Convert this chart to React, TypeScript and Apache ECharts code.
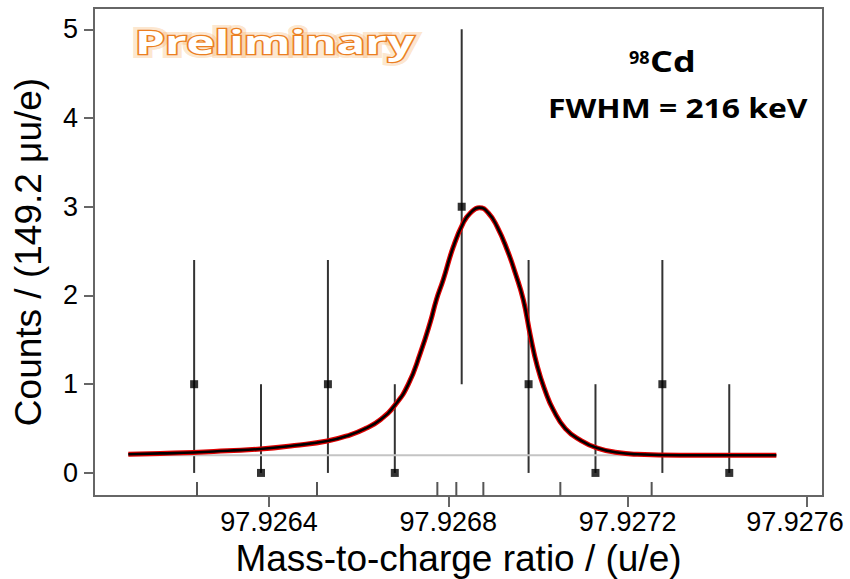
import React, { useEffect, useRef } from 'react';
import * as echarts from 'echarts';

// ---- data (mass-to-charge ratio in u/e) ----
const binCenters = [97.926233, 97.9263822, 97.9265314, 97.9266806, 97.9268298, 97.926979, 97.9271282, 97.9272774, 97.9274266];
const counts = [1, 0, 1, 0, 3, 1, 0, 1, 0];
const errLow = [0, 0, 0, 0, 1.0, 0, 0, 0, 0];
const errHigh = [2.4, 1.0, 2.4, 1.0, 5.0, 2.4, 1.0, 2.4, 1.0];
const events = [97.9262394, 97.9265071, 97.9267755, 97.9268178, 97.9268781, 97.9270498, 97.9272535];
const fitX = [
  97.9260862, 97.9261576, 97.9262312, 97.926307, 97.9263807, 97.9264565, 97.9265301, 97.9265814,
  97.9266149, 97.9266483, 97.9266818, 97.9267108, 97.9267375, 97.9267598, 97.9267732, 97.9267888,
  97.9268112, 97.9268335, 97.9268491, 97.9268691, 97.9268892, 97.9269093, 97.9269316, 97.9269495,
  97.9269673, 97.9269829, 97.9269985, 97.9270164, 97.9270342, 97.927061, 97.9270944, 97.9271324,
  97.927177, 97.9272216, 97.9273175, 97.9275316,
];
const fitY = [
  0.21, 0.22, 0.23, 0.25, 0.27, 0.31, 0.36, 0.43,
  0.5, 0.6, 0.77, 1.0, 1.35, 1.7, 1.95, 2.18,
  2.55, 2.82, 2.93, 2.99, 2.93, 2.77, 2.51, 2.25,
  1.95, 1.55, 1.2, 0.92, 0.71, 0.5, 0.37, 0.28,
  0.23, 0.21, 0.2, 0.2,
];
const background = 0.2;
const bgRange = [97.9260862, 97.9275316];
const xTicks = [97.9264, 97.9268, 97.9272, 97.9276];
const yTicks = [0, 1, 2, 3, 4, 5];
const X_MIN = 97.92600964;
const X_MAX = 97.9276357;
const Y_MIN = -0.26;
const Y_MAX = 5.24;

// The axis works in micro-u/e offsets from X_REF so that no precision is lost.
const X_REF = 97.9268;
const toAxis = (x: number) => (x - X_REF) * 1e6;
const fromAxis = (v: number) => X_REF + v * 1e-6;

const AXIS_FONT = '"Liberation Sans", Arial, sans-serif';
const NOTE_FONT = '"Open Sans", "Noto Sans", sans-serif';

export default function App() {
  const ref = useRef<HTMLDivElement>(null);
  useEffect(() => {
    if (!ref.current) return;
    const chart = echarts.init(ref.current, null, { renderer: 'svg' });
    const axisGray = '#666';
    const xTickAxis = xTicks.map(toAxis);
    const lastTick = xTickAxis[xTickAxis.length - 1];
    const fitData = fitX.map((x, i) => [toAxis(x), fitY[i]]);
    const option: any = {
      animation: false,
      backgroundColor: '#fff',
      grid: {
        left: 94, top: 8, width: 729, height: 488,
        show: true, borderColor: axisGray, borderWidth: 2, backgroundColor: 'transparent',
        containLabel: false, outerBoundsMode: 'none',
      },
      xAxis: {
        type: 'value', min: toAxis(X_MIN), max: toAxis(X_MAX),
        axisLine: { show: true, onZero: false, lineStyle: { color: axisGray, width: 2 } },
        axisTick: { show: true, customValues: xTickAxis, length: 11, lineStyle: { color: axisGray, width: 2 } },
        axisLabel: {
          customValues: xTickAxis,
          formatter: (v: number) => {
            const s = fromAxis(v).toFixed(4);
            return Math.abs(v - lastTick) < 1e-3 ? `{last|${s}}` : s;
          },
          fontSize: 27, fontFamily: AXIS_FONT, color: '#000', margin: 12,
          rich: { last: { fontSize: 27, fontFamily: AXIS_FONT, color: '#000', padding: [0, 24, 0, 0] } },
        },
        splitLine: { show: false },
        name: 'Mass-to-charge ratio / (u/e)',
        nameLocation: 'middle', nameGap: 44,
        nameTextStyle: { fontSize: 37, fontFamily: AXIS_FONT, color: '#000' },
      },
      yAxis: {
        type: 'value', min: Y_MIN, max: Y_MAX,
        axisLine: { show: true, onZero: false, lineStyle: { color: axisGray, width: 2 } },
        axisTick: { show: true, customValues: yTicks, length: 10, lineStyle: { color: axisGray, width: 2 } },
        axisLabel: {
          customValues: yTicks,
          formatter: (v: number) => String(Math.round(v)),
          fontSize: 27, fontFamily: AXIS_FONT, color: '#000', margin: 16,
        },
        splitLine: { show: false },
        name: 'Counts / (149.2 \u03bcu/e)',
        nameLocation: 'middle', nameGap: 47, nameRotate: 90,
        nameTextStyle: { fontSize: 37, fontFamily: AXIS_FONT, color: '#000' },
      },
      series: [
        {
          type: 'custom', silent: true, z: 2,
          data: binCenters.map((x, i) => [toAxis(x), errLow[i], errHigh[i]]),
          encode: { x: 0, y: [1, 2] },
          renderItem: (params: any, api: any) => {
            const a = api.coord([api.value(0), api.value(1)]);
            const b = api.coord([api.value(0), api.value(2)]);
            return {
              type: 'line',
              shape: { x1: a[0], y1: a[1], x2: b[0], y2: b[1] },
              style: { stroke: '#333', lineWidth: 2 },
            };
          },
        },
        {
          type: 'custom', silent: true, z: 2,
          data: events.map((x) => [toAxis(x), Y_MIN]),
          encode: { x: 0, y: 1 },
          renderItem: (params: any, api: any) => {
            const a = api.coord([api.value(0), api.value(1)]);
            return {
              type: 'line',
              shape: { x1: a[0], y1: a[1], x2: a[0], y2: a[1] - 14 },
              style: { stroke: '#555', lineWidth: 2 },
            };
          },
        },
        {
          type: 'line', silent: true, z: 3, symbol: 'none',
          data: [[toAxis(bgRange[0]), background], [toAxis(bgRange[1]), background]],
          lineStyle: { color: '#c4c4c4', width: 2 },
        },
        {
          type: 'line', silent: true, z: 4, symbol: 'none', smooth: 0.5,
          data: fitData,
          lineStyle: { color: '#e00000', width: 5 },
        },
        {
          type: 'line', silent: true, z: 5, symbol: 'none', smooth: 0.5,
          data: fitData,
          lineStyle: { color: '#000', width: 2.6 },
        },
        {
          type: 'scatter', silent: true, z: 6, symbol: 'rect', symbolSize: 8,
          data: binCenters.map((x, i) => [toAxis(x), counts[i]]),
          itemStyle: { color: '#000' },
        },
      ],
      graphic: [
        {
          type: 'text', x: 135, y: 42, scaleX: 1.49, z: 9,
          style: {
            text: 'Preliminary', font: `bold 32px ${NOTE_FONT}`,
            fill: 'rgba(0,0,0,0)', stroke: 'rgba(247,170,90,0.3)', lineWidth: 8,
            verticalAlign: 'middle', textAlign: 'left',
          },
        },
        {
          type: 'text', x: 135, y: 42, scaleX: 1.49, z: 10,
          style: {
            text: 'Preliminary', font: `bold 32px ${NOTE_FONT}`,
            fill: '#fff', stroke: '#EB7F22', lineWidth: 2.4,
            verticalAlign: 'middle', textAlign: 'left',
          },
        },
        {
          type: 'text', x: 629, y: 56.5, z: 10,
          style: { text: '98', font: `bold 18px ${NOTE_FONT}`, fill: '#000', verticalAlign: 'middle', textAlign: 'left' },
        },
        {
          type: 'text', x: 650, y: 60.5, scaleX: 1.24, z: 10,
          style: { text: 'Cd', font: `bold 29px ${NOTE_FONT}`, fill: '#000', verticalAlign: 'middle', textAlign: 'left' },
        },
        {
          type: 'text', x: 548, y: 107.5, scaleX: 1.18, z: 10,
          style: { text: 'FWHM = 216 keV', font: `bold 27px ${NOTE_FONT}`, fill: '#000', verticalAlign: 'middle', textAlign: 'left' },
        },
      ],
    };
    chart.setOption(option);
    return () => chart.dispose();
  }, []);
  return <div ref={ref} style={{ width: 850, height: 579, position: 'absolute', left: 0, top: 0 }} />;
}
